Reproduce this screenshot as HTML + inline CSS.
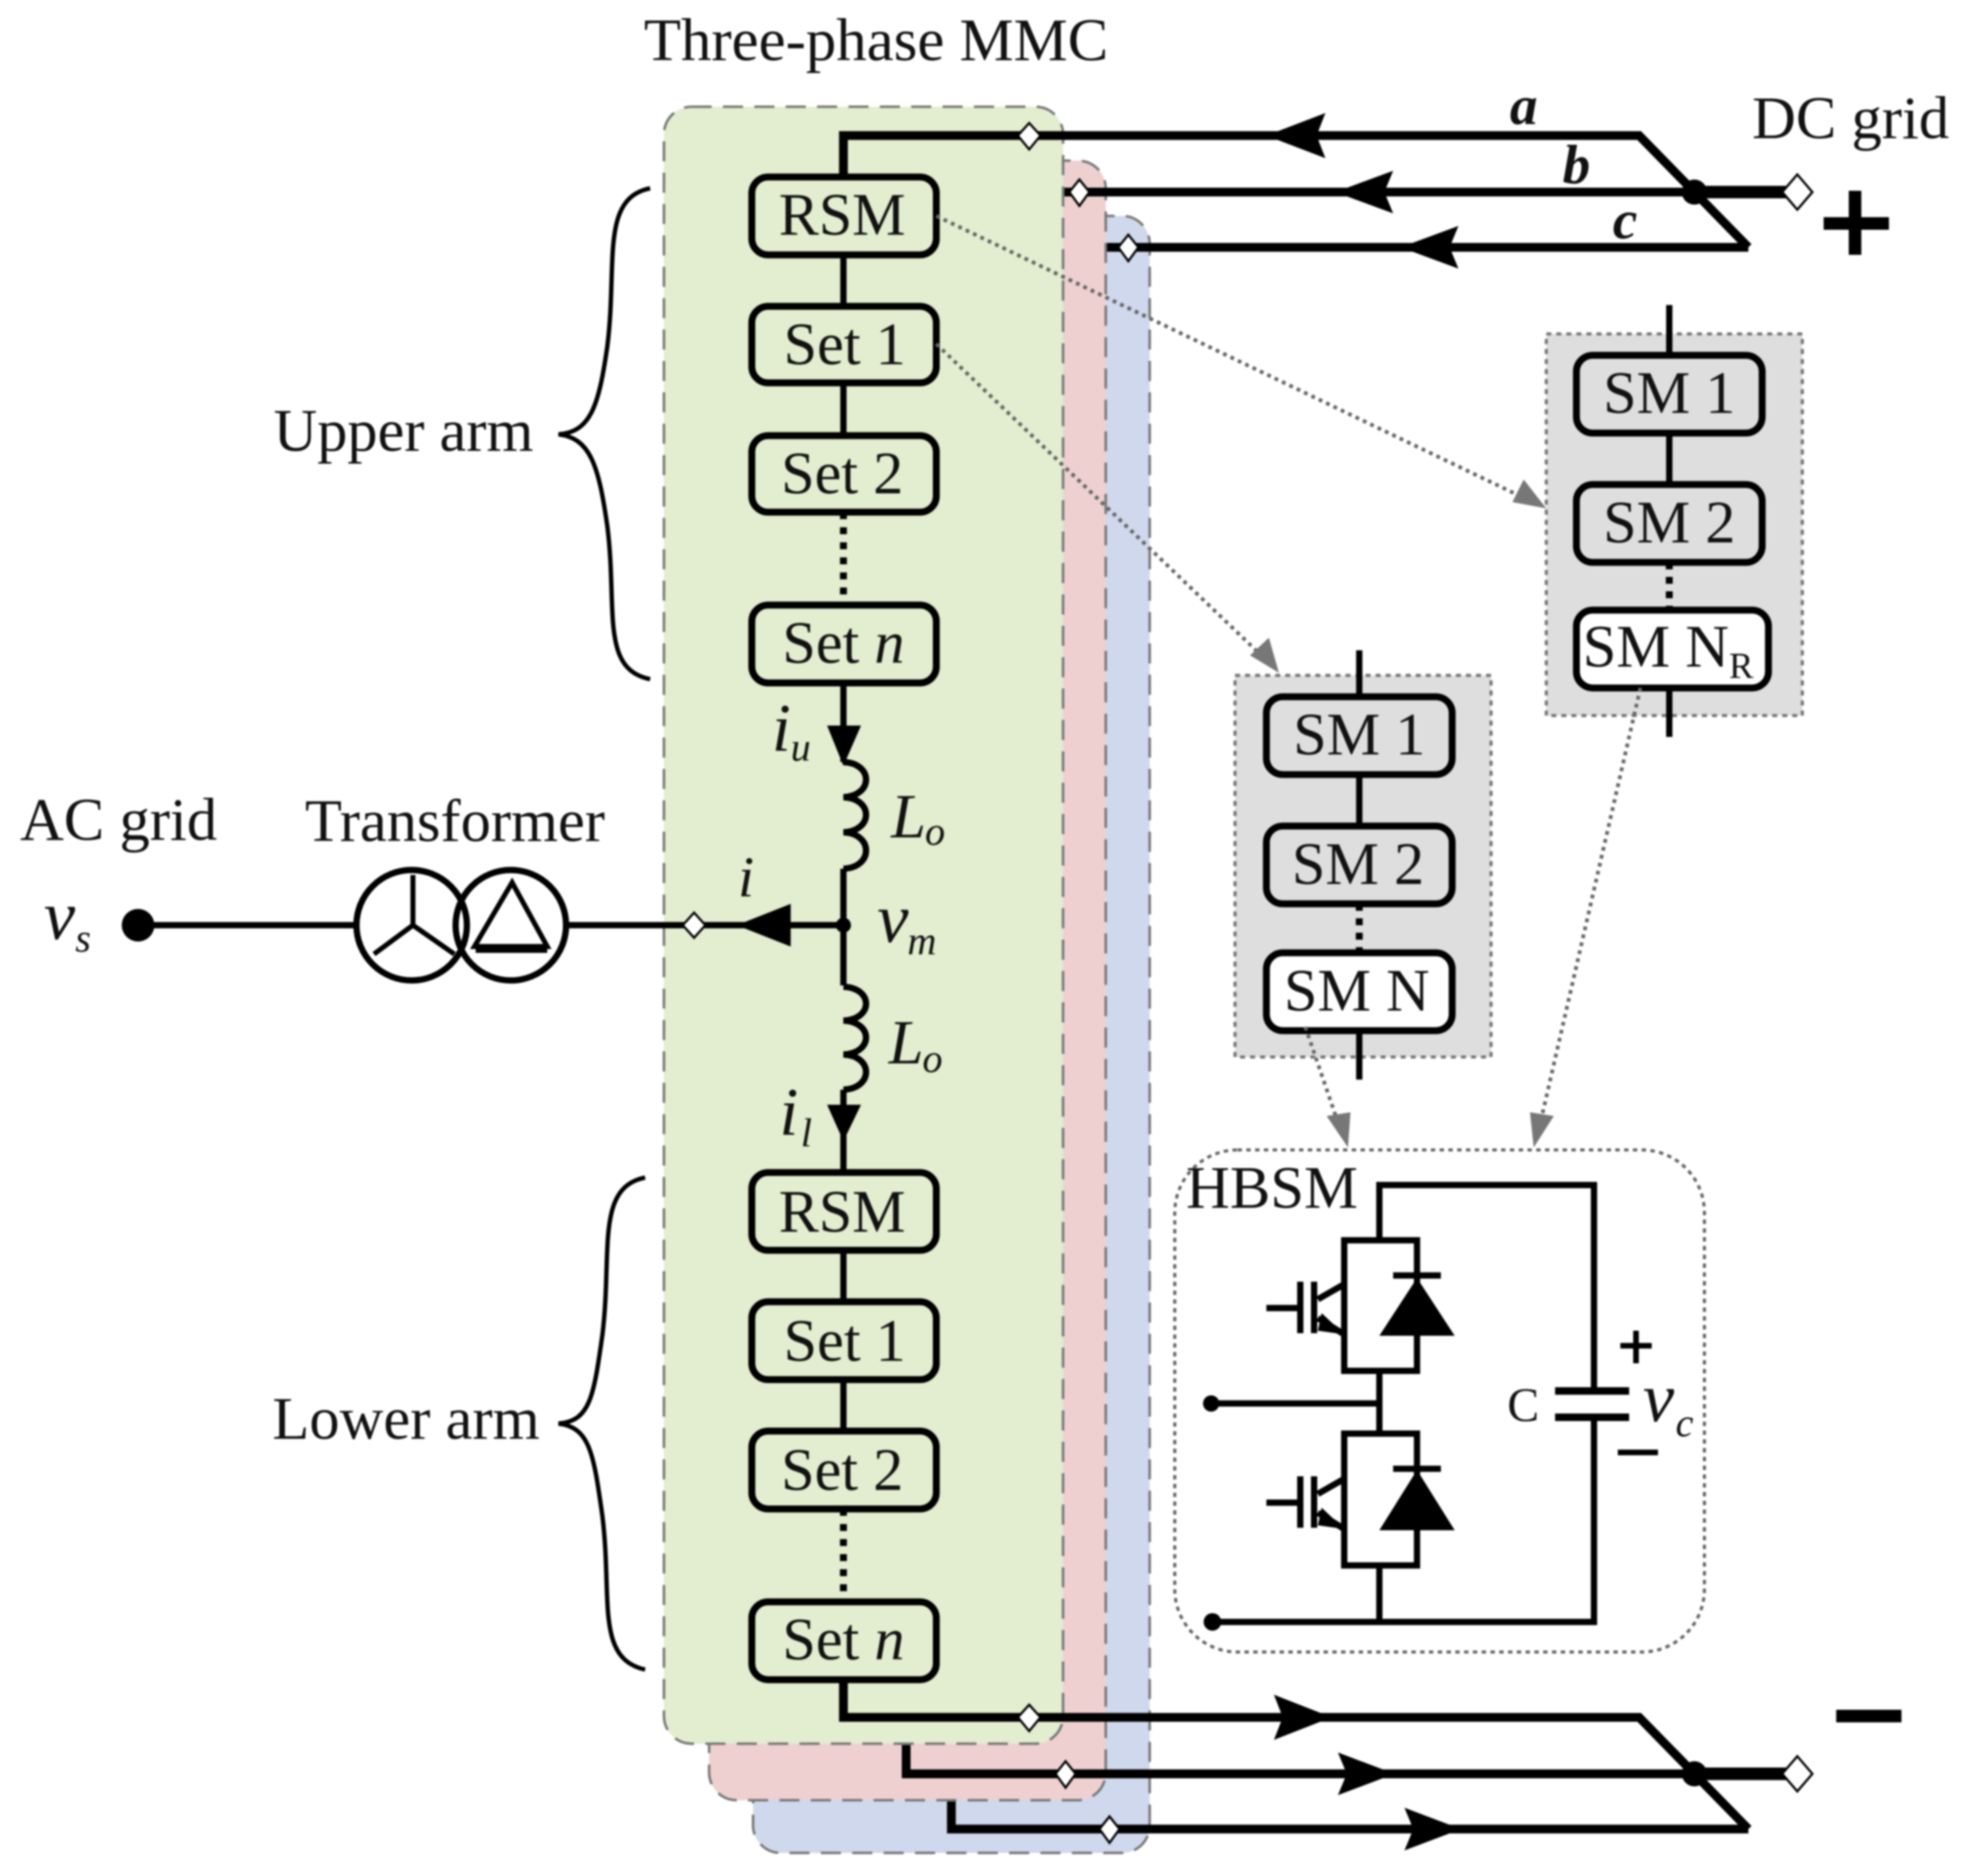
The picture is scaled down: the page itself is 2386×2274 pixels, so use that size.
<!DOCTYPE html>
<html><head><meta charset="utf-8"><style>
html,body{margin:0;padding:0;background:#fff;width:2386px;height:2274px;overflow:hidden}
svg{display:block;filter:blur(1px)}
text{font-family:"Liberation Serif",serif;fill:#111;font-size:48px}
.c{text-anchor:middle}
.i{font-style:italic}
.w{fill:none;stroke:#000;stroke-width:5}
.w2{fill:none;stroke:#000;stroke-width:7}
.p{stroke:#777;stroke-width:2;stroke-dasharray:16 9}
.b{stroke:#000;stroke-width:5.5}
.g{fill:#dedede;stroke:#777;stroke-width:2.5;stroke-dasharray:4 4}
.d{fill:none;stroke:#666;stroke-width:3;stroke-dasharray:3 3.5}
.dm{fill:#fff;stroke:#000;stroke-width:1.8}
</style></head><body>
<svg xmlns="http://www.w3.org/2000/svg" width="2386" height="2274" viewBox="0 0 1568 1494.4">
<rect width="1568" height="1495" fill="#fff"/>
<!-- blue -->
<rect class="p" x="600" y="172" width="316" height="1304" rx="22" fill="#cfd8ec"/>
<path class="w2" d="M881 197H1393"/>
<path class="w2" d="M758 1435V1457H1393"/>
<polygon points="1116,197 1162,180 1155,197 1162,214"/>
<polygon points="1164,1457 1119,1440 1126,1457 1119,1474"/>
<!-- red -->
<rect class="p" x="565" y="128" width="316" height="1306" rx="22" fill="#eed0d0"/>
<path class="w2" d="M848 153H1350"/>
<path class="w2" d="M722 1390V1413H1350"/>
<polygon points="1064,153 1110,136 1103,153 1110,170"/>
<polygon points="1111,1413 1066,1396 1073,1413 1066,1430"/>
<!-- green -->
<rect class="p" x="529" y="85" width="318" height="1304" rx="22" fill="#e3edcf"/>
<!-- main top line -->
<path class="w2" d="M672 141V108H1306L1393 197"/>
<path class="w2" d="M672 1338V1368H1306L1393 1457"/>
<path d="M1350 153H1432M1350 1413H1432" fill="none" stroke="#000" stroke-width="10"/>
<circle cx="1350" cy="153" r="10"/><circle cx="1350" cy="1413" r="10"/>
<polygon points="1009,108 1056,90 1049,108 1056,126"/>
<polygon points="1061,1368 1015,1350 1022,1368 1015,1386"/>
<!-- phase vertical -->
<path class="w" d="M672 203V347M672 544V607M672 692V785M672 868V934M672 996V1140M672 1338V1276"/>
<path d="M672 408V482M672 1202V1276" fill="none" stroke="#000" stroke-width="5.5" stroke-dasharray="5.5 6.5"/>
<path class="w" d="M672 607c24 1 24 27 0 28c24 1 24 27 0 28c24 1 24 28 0 29"/>
<path class="w" d="M672 786c24 1 24 26 0 27c24 1 24 26 0 27c24 1 24 27 0 28"/>
<polygon points="672,610 659,578 686,578"/>
<polygon points="672,909 659,880 686,880"/>
<!-- AC side -->
<path class="w" d="M110 737H284M452 737H672" stroke-width="6"/>
<circle cx="110" cy="737" r="13"/>
<circle cx="672" cy="737" r="6"/>
<polygon points="587,737 630,720 630,754"/>
<circle cx="328" cy="737" r="44" fill="#fff" stroke="#000" stroke-width="5"/>
<circle cx="407" cy="737" r="44" fill="none" stroke="#000" stroke-width="5"/>
<path d="M329 697V737L298 760M329 737L362 760" fill="none" stroke="#000" stroke-width="4"/>
<path d="M408 703L436 754H378Z" fill="none" stroke="#000" stroke-width="4"/>
<path d="M379 756H436" stroke="#000" stroke-width="6"/>
<!-- diamonds -->
<polygon class="dm" points="820,98 829,108 820,119 811,108"/>
<polygon class="dm" points="860,143 868,153 860,164 852,153"/>
<polygon class="dm" points="899,187 907,197 899,208 891,197"/>
<polygon class="dm" points="1432,139 1444,153 1432,167 1420,153"/>
<polygon class="dm" points="553,727 562,737 553,747 544,737"/>
<polygon class="dm" points="820,1358 829,1368 820,1379 811,1368"/>
<polygon class="dm" points="849,1403 857,1413 849,1424 841,1413"/>
<polygon class="dm" points="884,1447 892,1457 884,1468 876,1457"/>
<polygon class="dm" points="1432,1399 1444,1413 1432,1427 1420,1413"/>
<!-- arm boxes -->
<g fill="#e3edcf">
<rect class="b" x="599" y="141" width="147" height="62" rx="13"/>
<rect class="b" x="599" y="244" width="147" height="61" rx="13"/>
<rect class="b" x="599" y="347" width="147" height="61" rx="13"/>
<rect class="b" x="599" y="482" width="147" height="62" rx="13"/>
<rect class="b" x="599" y="934" width="147" height="62" rx="13"/>
<rect class="b" x="599" y="1037" width="147" height="62" rx="13"/>
<rect class="b" x="599" y="1140" width="147" height="62" rx="13"/>
<rect class="b" x="599" y="1276" width="147" height="62" rx="13"/>
</g>
<text class="c" x="671" y="187" textLength="101" lengthAdjust="spacingAndGlyphs">RSM</text>
<text class="c" x="673" y="290">Set 1</text>
<text class="c" x="671" y="393">Set 2</text>
<text class="c" x="672" y="528">Set <tspan class="i">n</tspan></text>
<text class="c" x="671" y="981" textLength="101" lengthAdjust="spacingAndGlyphs">RSM</text>
<text class="c" x="673" y="1084">Set 1</text>
<text class="c" x="671" y="1187">Set 2</text>
<text class="c" x="672" y="1322">Set <tspan class="i">n</tspan></text>
<!-- braces -->
<path d="M518 150C478 158 492 210 484 275C477 325 470 344 445 346C470 349 477 370 484 420C492 485 478 533 518 541" fill="none" stroke="#000" stroke-width="3.5"/>
<path d="M514 938C474 946 488 998 480 1063C473 1113 470 1132 445 1134C470 1137 473 1158 480 1208C488 1273 474 1321 514 1330" fill="none" stroke="#000" stroke-width="3.5"/>
<!-- grey SM groups -->
<rect class="g" x="1232" y="266" width="204" height="304"/>
<rect class="g" x="984" y="538" width="204" height="304"/>
<path class="w" d="M1330 243V386M1330 548V587M1083 518V658M1083 821V860"/>
<path d="M1330 448V486M1083 720V759" fill="none" stroke="#000" stroke-width="5.5" stroke-dasharray="5.5 6"/>
<g>
<rect class="b" x="1256" y="283" width="148" height="62" rx="13" fill="#dedede"/>
<rect class="b" x="1256" y="386" width="148" height="62" rx="13" fill="#dedede"/>
<rect class="b" x="1256" y="486" width="153" height="62" rx="13" fill="#fff"/>
<rect class="b" x="1009" y="555" width="148" height="62" rx="13" fill="#dedede"/>
<rect class="b" x="1009" y="658" width="148" height="62" rx="13" fill="#dedede"/>
<rect class="b" x="1009" y="759" width="148" height="62" rx="13" fill="#fff"/>
</g>
<text class="c" x="1330" y="329">SM 1</text>
<text class="c" x="1330" y="432">SM 2</text>
<text x="1261" y="531" textLength="136" lengthAdjust="spacingAndGlyphs">SM N<tspan font-size="29" dy="9">R</tspan></text>
<text class="c" x="1083" y="601">SM 1</text>
<text class="c" x="1082" y="704">SM 2</text>
<text class="c" x="1081" y="805">SM N</text>
<!-- dotted connectors -->
<path class="d" d="M746 172L1215 397M746 274L1008 525M1040 818L1068 900M1307 548L1226 900"/>
<polygon fill="#777" points="1232,405 1205,400 1214,382"/>
<polygon fill="#777" points="1019,536 996,522 1011,508"/>
<polygon fill="#777" points="1074,914 1057,889 1076,886"/>
<polygon fill="#777" points="1222,914 1219,886 1238,889"/>
<!-- HBSM -->
<rect x="936" y="916" width="422" height="400" rx="50" fill="#fff" stroke="#666" stroke-width="2.5" stroke-dasharray="3.500 3.500"/>
<g fill="none" stroke="#000" stroke-width="5">
<path d="M1099 988V944H1270V1108M1270 1129V1292H965"/>
<path d="M1099 1092V1142M1099 1247V1292M965 1118H1099"/>
<path d="M1239 1108H1298M1239 1129H1298" stroke-width="6"/>
<rect x="1071" y="988" width="58" height="104"/>
<rect x="1071" y="1142" width="58" height="105"/>
<path d="M1110 1016H1148M1110 1170H1148"/>
<path d="M1009 1042H1034M1036 1021V1062M1047 1021V1062M1050 1035L1071 1023M1050 1050L1071 1063"/>
<path d="M1009 1197H1034M1036 1176V1217M1047 1176V1217M1050 1190L1071 1178M1050 1205L1071 1218"/>
<path d="M1291 1072H1316M1303.500 1060V1086M1289 1157H1321" stroke-width="4.500"/>
</g>
<polygon points="1129,1018 1159,1064 1099,1064"/>
<polygon points="1129,1171 1159,1219 1099,1219"/>
<polygon points="1071,1063 1053,1046 1050,1060"/>
<polygon points="1071,1218 1053,1201 1050,1215"/>
<circle cx="965" cy="1118" r="6.500"/><circle cx="966" cy="1292" r="7"/>
<!-- labels -->
<text x="513" y="48" textLength="370" lengthAdjust="spacingAndGlyphs">Three-phase MMC</text>
<text x="1396" y="110" textLength="157" lengthAdjust="spacingAndGlyphs">DC grid</text>
<text x="1203" y="99" class="i" font-weight="bold" style="font-size:44px">a</text>
<text x="1245" y="146" class="i" font-weight="bold" style="font-size:44px">b</text>
<text x="1285" y="190" class="i" font-weight="bold" style="font-size:44px">c</text>
<text x="218" y="359" textLength="207" lengthAdjust="spacingAndGlyphs">Upper arm</text>
<text x="217" y="1146" textLength="213" lengthAdjust="spacingAndGlyphs">Lower arm</text>
<text x="16" y="669" textLength="157" lengthAdjust="spacingAndGlyphs">AC grid</text>
<text x="243" y="670" textLength="239" lengthAdjust="spacingAndGlyphs">Transformer</text>
<text x="945" y="962" textLength="137" lengthAdjust="spacingAndGlyphs">HBSM</text>
<text x="1201" y="1132" style="font-size:38px">C</text>
<text x="35" y="748" class="i" style="font-size:56px">v</text><text x="60" y="758" class="i" style="font-size:32px">s</text>
<text x="699" y="750" class="i" style="font-size:56px">v</text><text x="723" y="760" class="i" style="font-size:32px">m</text>
<text x="1309" y="1132" class="i" style="font-size:56px">v</text><text x="1335" y="1144" class="i" style="font-size:32px">c</text>
<text x="615" y="598" class="i" style="font-size:54px">i</text><text x="630" y="606" class="i" style="font-size:32px">u</text>
<text x="621" y="904" class="i" style="font-size:54px">i</text><text x="638" y="913" class="i" style="font-size:32px">l</text>
<text x="588" y="714" class="i" style="font-size:46px">i</text>
<text x="710" y="667" class="i" style="font-size:50px">L</text><text x="737" y="673" class="i" style="font-size:32px">o</text>
<text x="708" y="847" class="i" style="font-size:50px">L</text><text x="735" y="854" class="i" style="font-size:32px">o</text>
<!-- plus minus -->
<path d="M1453 178H1505M1478 152V203M1463 1367H1515" fill="none" stroke="#000" stroke-width="10"/>
</svg>
</body></html>
